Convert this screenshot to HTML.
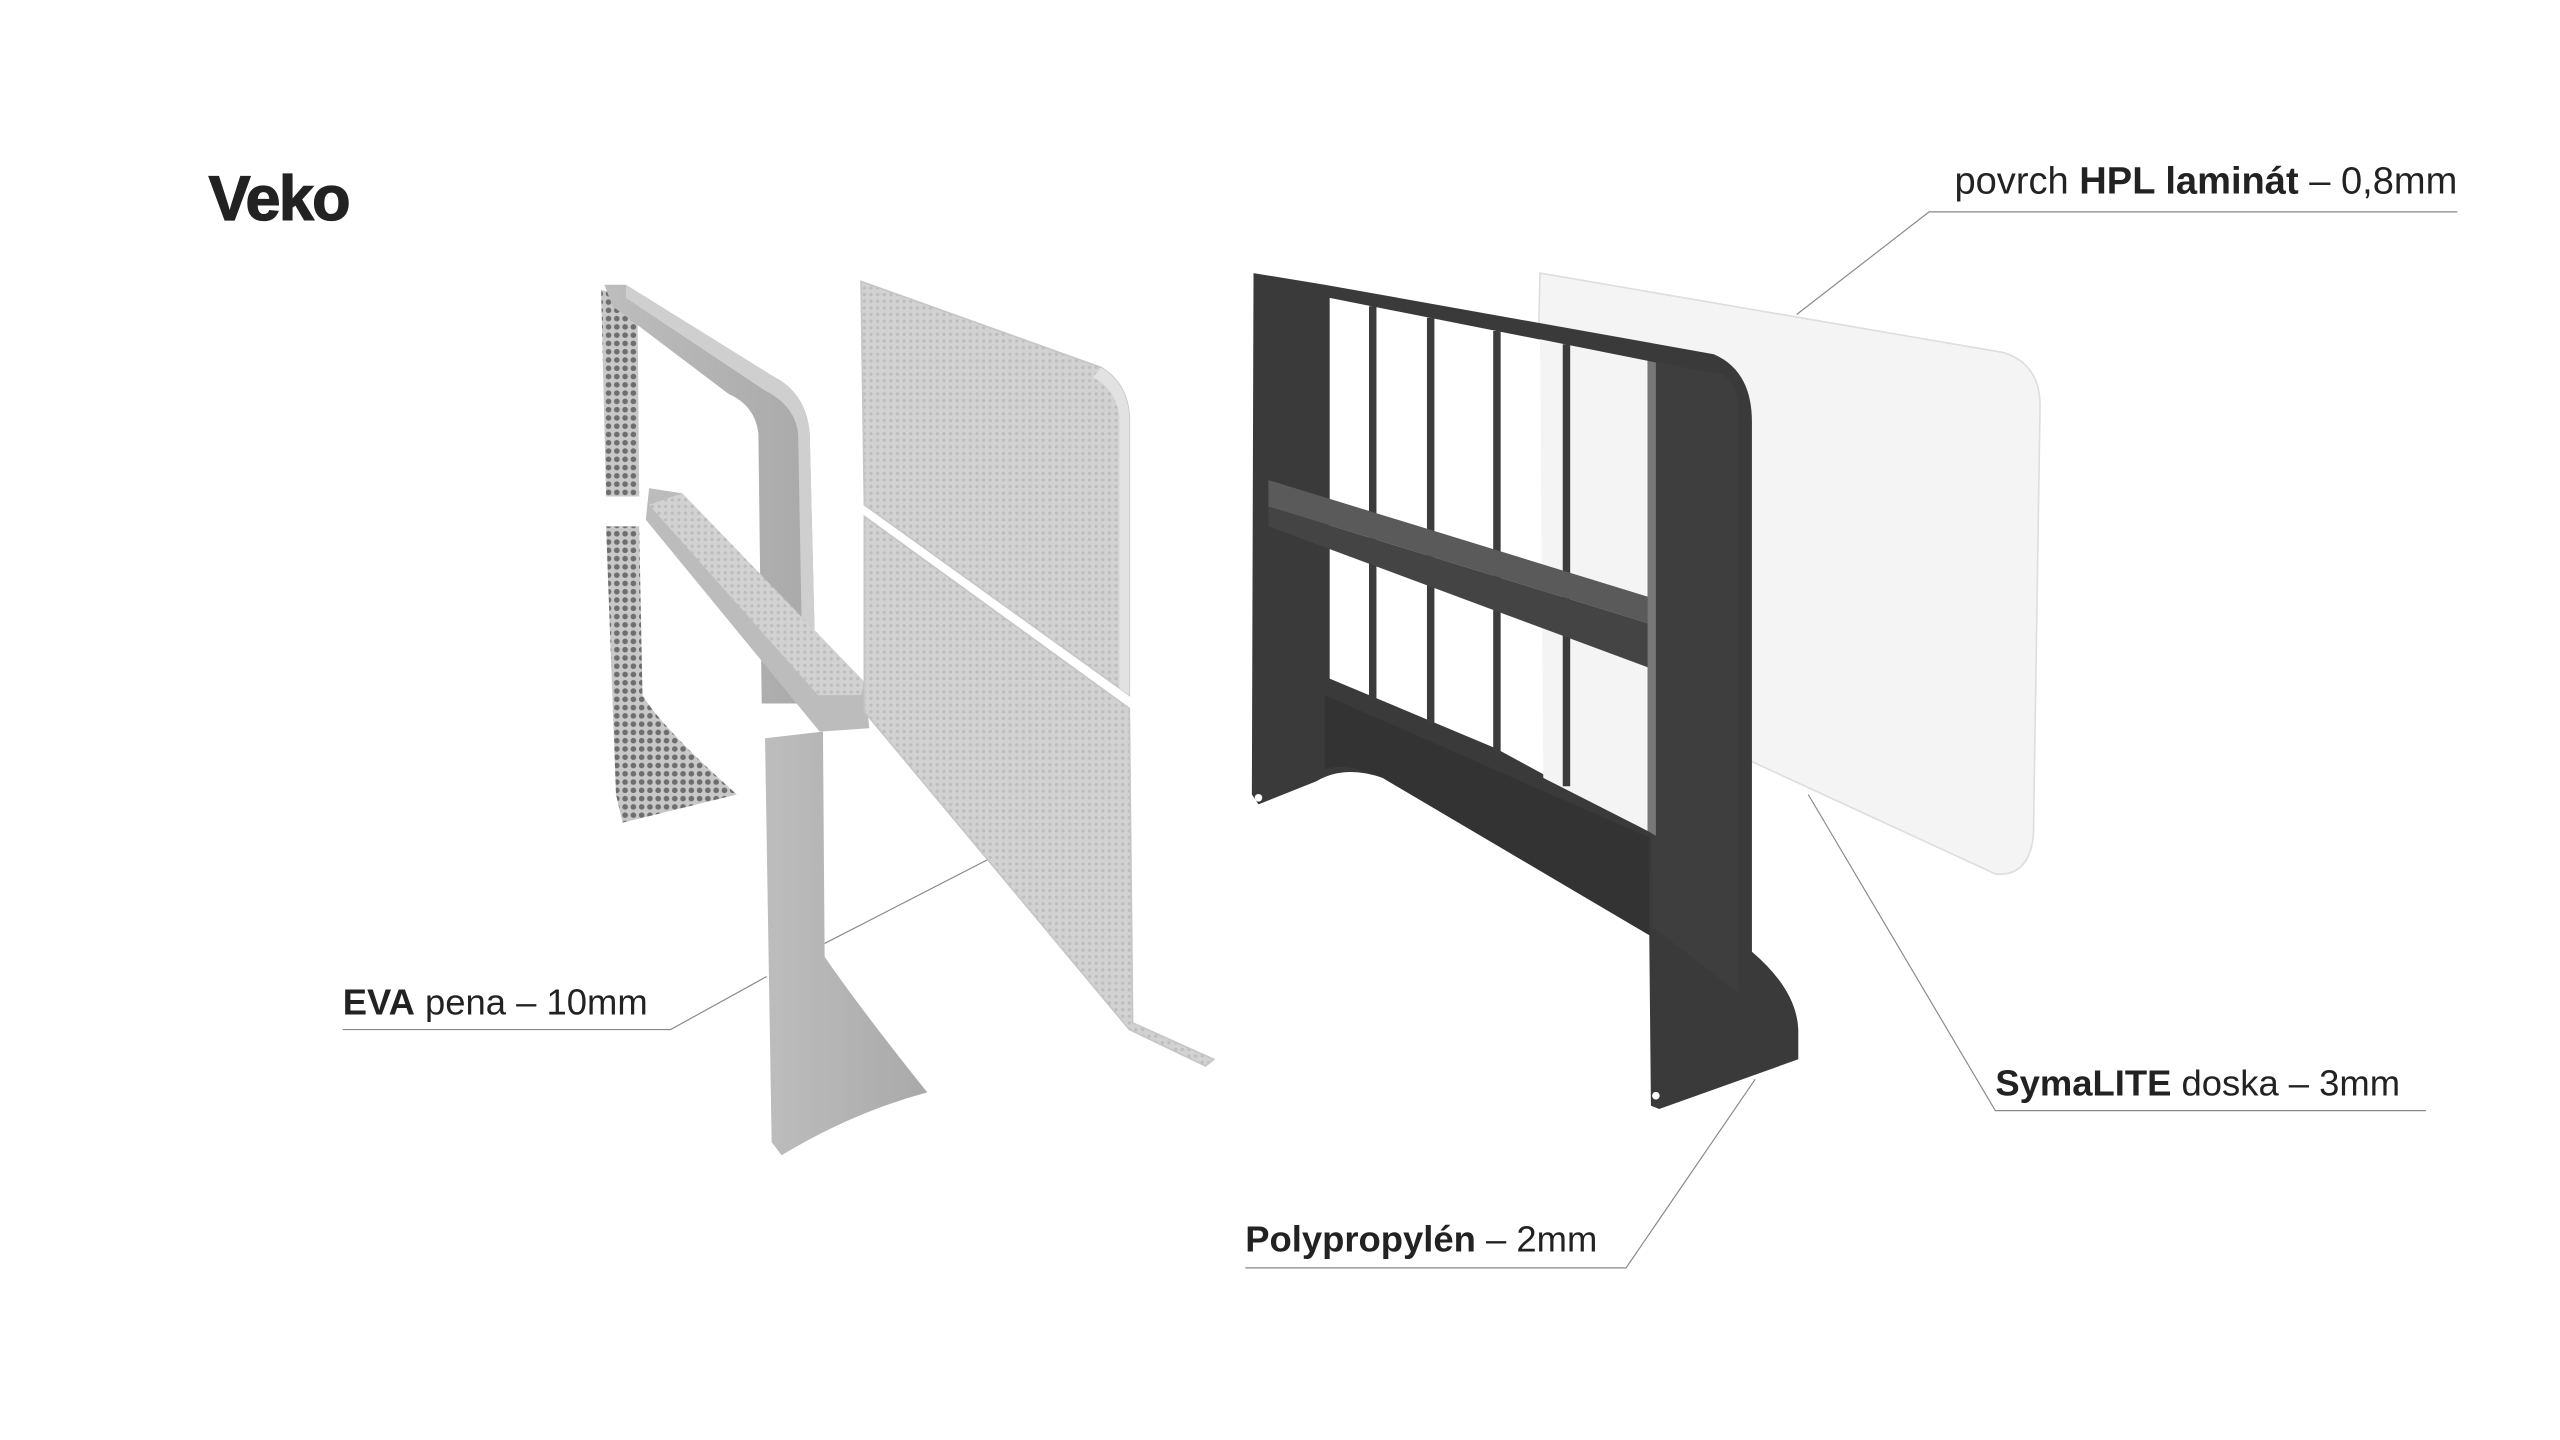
<!DOCTYPE html>
<html><head><meta charset="utf-8"><style>
html,body{margin:0;padding:0;background:#fff;width:2560px;height:1440px;overflow:hidden}
svg{display:block}
text{font-family:"Liberation Sans",sans-serif;fill:#222}
</style></head><body>
<svg width="2560" height="1440" viewBox="0 0 1546 870" preserveAspectRatio="none">
<defs>
<pattern id="hex" width="5" height="5" patternUnits="userSpaceOnUse">
<rect width="5" height="5" fill="#c8c8c8"/><circle cx="2.5" cy="2.5" r="1.7" fill="#6e6e6e"/></pattern>
<pattern id="perf" width="4" height="4" patternUnits="userSpaceOnUse">
<rect width="4" height="4" fill="#d2d2d2"/><circle cx="2" cy="2" r="1" fill="#bdbdbd"/></pattern>
<linearGradient id="gl" x1="0" x2="1"><stop offset="0" stop-color="#bdbdbd"/><stop offset="1" stop-color="#a9a9a9"/></linearGradient>
</defs>
<rect width="1546" height="870" fill="#fff"/>

<!-- leader lines -->
<g stroke="#888" stroke-width="0.7" fill="none">
<polyline points="1484,128 1165,128 1085,190"/>
<polyline points="207,622 405,622 463,590"/>
<line x1="498" y1="570" x2="605" y2="515"/>
<polyline points="752,766 982,766 1060,652"/>
<polyline points="1465,671 1205,671 1092,480"/>
</g>

<!-- white SymaLITE / HPL panel (behind frame) -->
<path d="M930,165 L1210,213 Q1232,220 1232,245 L1228,505 Q1225,530 1205,528 L932,402 Q925,398 925,390 Z" fill="#f4f4f4" stroke="#dedede" stroke-width="1"/>

<!-- EVA left perforated strip -->
<path d="M363,175 L385,182 L386,300 L366,300 Z" fill="url(#hex)"/>
<path d="M366,318 L386,318 L388,420 Q400,440 445,480 L376,497 L372,480 Z" fill="url(#hex)"/>
<!-- EVA top bar -->
<path d="M365,172 L378,172 L468,228 Q487,238 489,262 L493,425 L460,425 L458,262 Q456,245 440,238 L370,185 Z" fill="url(#gl)"/>
<path d="M378,172 L468,228 Q487,238 489,262 L493,425 L485,425 L482,262 Q480,245 462,236 L378,180 Z" fill="#cfcfcf"/>
<!-- shelf -->
<path d="M392,295 L412,298 L522,412 L525,440 L495,442 L390,314 Z" fill="#bcbcbc"/>
<path d="M412,298 L522,412 L520,420 L494,420 L392,305 Z" fill="url(#perf)"/>
<!-- EVA bottom leg -->
<path d="M462,446 L497,442 L498,578 Q520,610 560,660 Q515,672 472,698 L466,690 Z" fill="url(#gl)"/>

<!-- perforated panel -->
<path d="M520,170 L665,222 Q681,232 682,252 L682,420 L522,305 Z" fill="url(#perf)" stroke="#c6c6c6" stroke-width="1"/>
<path d="M522,312 L682,428 L684,618 L733,640 L728,644 L682,622 L522,430 Z" fill="url(#perf)" stroke="#c6c6c6" stroke-width="1"/>
<path d="M665,222 Q681,232 682,252 L682,420 L676,416 L676,252 Q674,235 660,228 Z" fill="#e2e2e2"/>

<!-- dark PP frame -->
<path d="M757,165 L800,172 L1035,214 Q1058,224 1058,255 L1058,575 Q1085,598 1086,622 L1086,640 L1002,670 L997,668 L996,565 L835,470 Q812,462 795,472 L760,486 L756,480 Z" fill="#3a3a3a"/>
<path d="M803,180 L995,218 L995,502 L903,452 L803,410 Z" fill="#fff"/>
<path d="M930,205 L995,218 L995,502 L932,470 Z" fill="#f4f4f4"/>
<g stroke="#3c3c3c" stroke-width="4.5">
<line x1="829" y1="185" x2="829" y2="422"/>
<line x1="864" y1="192" x2="864" y2="438"/>
<line x1="904" y1="200" x2="904" y2="455"/>
<line x1="946" y1="208" x2="946" y2="475"/>
</g>
<path d="M766,290 L1000,362 L1000,378 L766,306 Z" fill="#5a5a5a"/>
<path d="M766,306 L1000,378 L1000,405 L766,318 Z" fill="#444"/>
<path d="M800,420 L996,506 L996,565 L835,470 Q812,460 800,465 Z" fill="#333"/>
<path d="M995,218 L1040,226 Q1050,232 1050,250 L1050,600 L998,560 Z" fill="#3e3e3e"/>
<path d="M995,218 L1000,219 L1000,505 L995,502 Z" fill="#777"/>
<circle cx="760" cy="482" r="2.3" fill="#fff"/>
<circle cx="1000" cy="662" r="2.3" fill="#fff"/>

<!-- labels -->
<text x="126" y="133" font-size="38" font-weight="900" style="letter-spacing:-1px;stroke:#222;stroke-width:0.8">Veko</text>
<text x="1484" y="117" font-size="23" text-anchor="end">povrch <tspan font-weight="bold">HPL laminát</tspan> – 0,8mm</text>
<text x="207" y="613" font-size="22"><tspan font-weight="bold">EVA</tspan> pena – 10mm</text>
<text x="752" y="756" font-size="22"><tspan font-weight="bold">Polypropylén</tspan> – 2mm</text>
<text x="1205" y="662" font-size="22"><tspan font-weight="bold">SymaLITE</tspan> doska – 3mm</text>
</svg>
</body></html>
